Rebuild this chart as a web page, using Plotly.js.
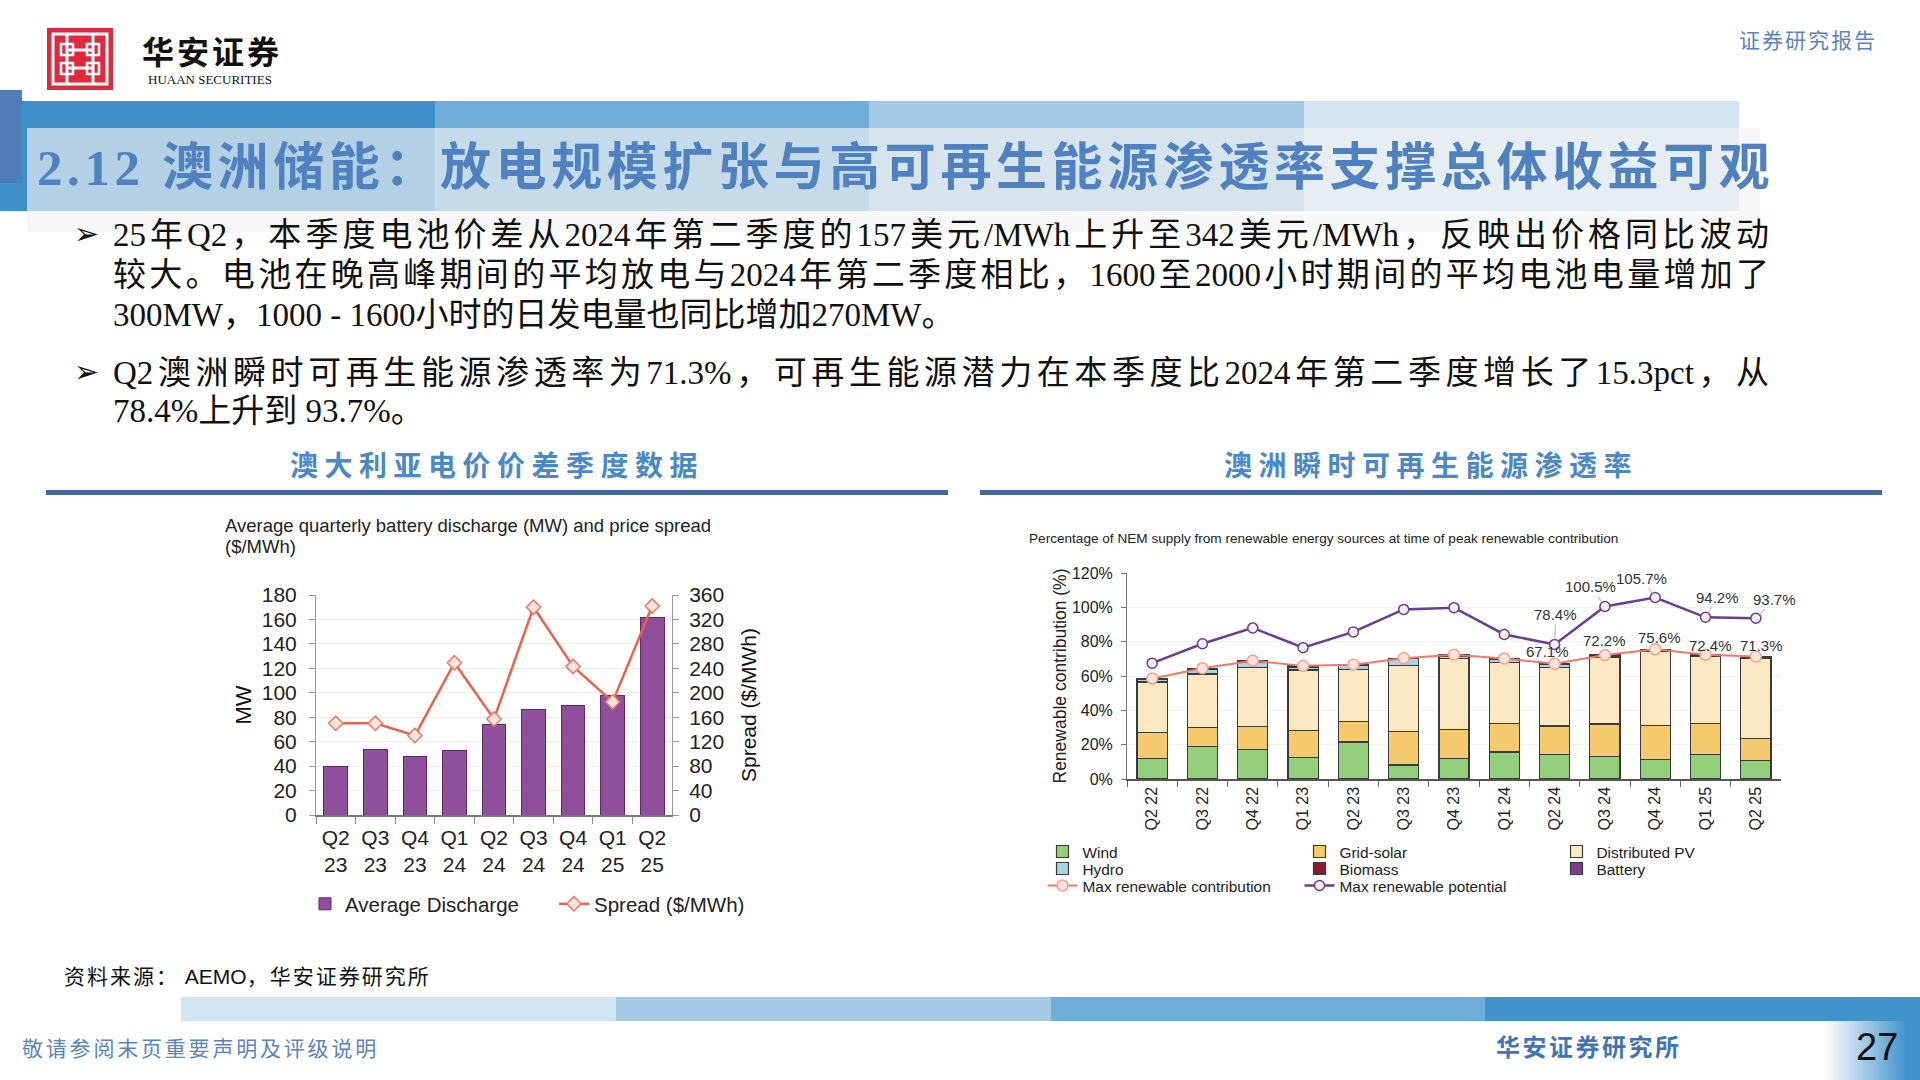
<!DOCTYPE html>
<html><head><meta charset="utf-8">
<script src="https://cdn.plot.ly/plotly-3.0.1.min.js"></script>
<style>
html,body{margin:0;padding:0;width:1920px;height:1080px;overflow:hidden;background:#fff;}
#page{position:relative;width:1920px;height:1080px;font-family:"Liberation Serif","Noto Sans CJK SC",serif;}
.a{position:absolute;white-space:nowrap;}
.tl{position:absolute;left:113px;width:1656px;height:40px;line-height:40px;font-size:33px;color:#111;white-space:nowrap;}
.jst{text-align:justify;text-align-last:justify;text-justify:inter-character;white-space:normal;}
.bul{position:absolute;left:74px;font-family:"DejaVu Sans",sans-serif;font-size:30px;color:#111;line-height:40px;}
#chart{position:absolute;left:0;top:0;width:1920px;height:1080px;}
</style></head>
<body><div id="page">
<!-- logo -->
<svg class="a" style="left:47px;top:28px" width="66" height="62" viewBox="0 0 66 62">
 <rect width="66" height="62" fill="#e2283d"/>
 <rect x="6" y="6" width="54" height="50" fill="none" stroke="#fff" stroke-width="3"/>
 <path d="M20 6V56M46 6V56M20 22H46M20 40H46" stroke="#fff" stroke-width="3" fill="none"/>
 <rect x="14" y="16" width="12" height="11" fill="none" stroke="#fff" stroke-width="2.5"/>
 <rect x="40" y="16" width="12" height="11" fill="none" stroke="#fff" stroke-width="2.5"/>
 <rect x="14" y="35" width="12" height="11" fill="none" stroke="#fff" stroke-width="2.5"/>
 <rect x="40" y="35" width="12" height="11" fill="none" stroke="#fff" stroke-width="2.5"/>
</svg>
<div class="a" style="left:142px;top:32px;font-family:'Noto Sans CJK SC';font-weight:700;font-size:32px;letter-spacing:3px;color:#111;line-height:36px;">华安证券</div>
<div class="a" style="left:148px;top:72px;font-family:'Liberation Serif';font-size:13px;color:#111;line-height:15px;">HUAAN SECURITIES</div>
<div class="a" style="left:1739px;top:25px;font-family:'Noto Sans CJK SC';font-size:21px;letter-spacing:2px;color:#5b83bd;line-height:28px;">证券研究报告</div>

<!-- header band -->
<div class="a" style="left:0;top:101px;width:435px;height:110px;background:#3f8fcb"></div>
<div class="a" style="left:435px;top:101px;width:434px;height:110px;background:#6faed9"></div>
<div class="a" style="left:869px;top:101px;width:435px;height:110px;background:#a3c9e4"></div>
<div class="a" style="left:1304px;top:101px;width:435px;height:110px;background:#d0e4f2"></div>
<div class="a" style="left:0;top:90px;width:22px;height:93px;background:#4f7db8"></div>
<div class="a" style="left:27px;top:128px;width:1733px;height:104px;background:rgba(242,242,242,0.65)"></div>
<div class="a" style="left:37px;top:138px;height:60px;line-height:60px;font-family:'Liberation Serif','Noto Sans CJK SC';font-weight:700;font-size:51px;letter-spacing:4.6px;color:#4f80c0;">2.12 澳洲储能：放电规模扩张与高可再生能源渗透率支撑总体收益可观</div>

<!-- bullets -->
<div class="bul" style="top:214px">➢</div>
<div class="tl jst" style="top:215px">25年Q2，本季度电池价差从2024年第二季度的157美元/MWh上升至342美元/MWh，反映出价格同比波动</div>
<div class="tl jst" style="top:255px">较大。电池在晚高峰期间的平均放电与2024年第二季度相比，1600至2000小时期间的平均电池电量增加了</div>
<div class="tl" style="top:295px">300MW，1000 - 1600小时的日发电量也同比增加270MW。</div>
<div class="bul" style="top:352px">➢</div>
<div class="tl jst" style="top:353px">Q2澳洲瞬时可再生能源渗透率为71.3%，可再生能源潜力在本季度比2024年第二季度增长了15.3pct，从</div>
<div class="tl" style="top:391px">78.4%上升到 93.7%。</div>

<!-- section headers -->
<div class="a" style="left:46px;width:902px;top:446px;text-align:center;font-family:'Noto Sans CJK SC';font-weight:700;font-size:28px;letter-spacing:6.5px;color:#4a88c8;line-height:36px;">澳大利亚电价价差季度数据</div>
<div class="a" style="left:46px;top:490px;width:902px;height:5px;background:#41699f"></div>
<div class="a" style="left:980px;width:902px;top:446px;text-align:center;font-family:'Noto Sans CJK SC';font-weight:700;font-size:28px;letter-spacing:6.5px;color:#4a88c8;line-height:36px;">澳洲瞬时可再生能源渗透率</div>
<div class="a" style="left:980px;top:490px;width:902px;height:5px;background:#41699f"></div>

<!-- left chart title -->
<div class="a" style="left:225px;top:515px;font-family:'Liberation Sans';font-size:18.5px;line-height:21px;color:#222;">Average quarterly battery discharge (MW) and price spread<br>($/MWh)</div>

<!-- footer -->
<div class="a" style="left:64px;top:961px;font-family:'Noto Sans CJK SC';font-size:21px;letter-spacing:2px;color:#111;line-height:28px;">资料来源：<span style="font-family:'Liberation Sans';letter-spacing:0"> AEMO</span>，华安证券研究所</div>
<div class="a" style="left:181px;top:997px;width:435px;height:24px;background:#d0e4f2"></div>
<div class="a" style="left:616px;top:997px;width:435px;height:24px;background:#a3c9e4"></div>
<div class="a" style="left:1051px;top:997px;width:434px;height:24px;background:#6faed9"></div>
<div class="a" style="left:1485px;top:997px;width:435px;height:24px;background:#4193cc"></div>
<div class="a" style="left:1825px;top:1021px;width:95px;height:59px;background:linear-gradient(to right,#ffffff,#b5d3ea 35%,#4193cc 85%)"></div>
<div class="a" style="left:1856px;top:1027px;font-family:'Liberation Sans';font-size:38px;color:#111;line-height:40px;">27</div>
<div class="a" style="left:22px;top:1033px;font-family:'Noto Sans CJK SC';font-size:21px;letter-spacing:2.8px;color:#5b83bd;line-height:28px;">敬请参阅末页重要声明及评级说明</div>
<div class="a" style="left:1496px;top:1031px;font-family:'Noto Sans CJK SC';font-weight:700;font-size:24px;letter-spacing:2.5px;color:#3f74b8;line-height:30px;">华安证券研究所</div>

<div id="chart"></div>
</div>
<script>
// ---------- Left chart data ----------
const dischargeQuarters = ['Q2<br>23','Q3<br>23','Q4<br>23','Q1<br>24','Q2<br>24','Q3<br>24','Q4<br>24','Q1<br>25','Q2<br>25'];
const averageDischargeMW = [40, 54, 48, 53, 74, 86, 90, 98, 162];
const spreadPerMWh = [150, 150, 130, 249, 157, 340, 243, 185, 342];

// ---------- Right chart data ----------
const renewQuarters = ['Q2 22','Q3 22','Q4 22','Q1 23','Q2 23','Q3 23','Q4 23','Q1 24','Q2 24','Q3 24','Q4 24','Q1 25','Q2 25'];
const windPct        = [11.8, 18.8, 17.1, 12.5, 21.6,  8.2, 11.8, 15.7, 14.4, 13.2, 11.4, 14.2, 10.8];
const gridSolarPct   = [15.3, 11.0, 13.7, 15.7, 11.9, 19.3, 17.2, 16.8, 16.5, 18.9, 19.7, 18.3, 12.8];
const distributedPct = [29.4, 31.4, 34.3, 35.3, 30.2, 38.4, 41.2, 35.3, 33.9, 38.7, 43.5, 38.7, 46.4];
const hydroPct       = [ 1.4,  2.5,  2.9,  1.8,  2.3,  4.1,  1.4,  1.6,  1.7,  0.8,  0.4,  0.5,  0.4];
const biomassPct     = [ 0.7,  0.8,  0.9,  0.6,  0.6,  0.4,  0.8,  0.8,  0.6,  0.4,  0.3,  0.4,  0.4];
const batteryPct     = [ 0,    0,    0,    0,    0,    0,    0,    0,    0,    0.2,  0.3,  0.3,  0.5];
const maxContributionPct = [58.6, 64.5, 68.9, 65.9, 66.6, 70.4, 72.4, 70.2, 67.1, 72.2, 75.6, 72.4, 71.3];
const maxPotentialPct    = [67.5, 78.8, 88.0, 76.5, 85.7, 98.8, 99.8, 84.2, 78.4, 100.5, 105.7, 94.2, 93.7];
const labelledFrom = 8; // values labelled from Q2 24 onwards
const renewTitle = 'Percentage of NEM supply from renewable energy sources at time of peak renewable contribution';

// label offsets (px) — layout only
const potentialOffsets    = [[1,-30],[-14,-20],[-14,-19],[12,-20],[19,-19]];
const contributionOffsets = [[-7,-12],[0,-15],[4,-12],[5,-9],[6,-11]];

const W = 1920, H = 1080;
const px = v => v / W;
const py = v => 1 - v / H;

const edge = {color:'#3a3a3a', width:1.2};
const traces = [
  {type:'bar', name:'Average Discharge', x:dischargeQuarters, y:averageDischargeMW, xaxis:'x', yaxis:'y',
   marker:{color:'#8f4f9b', line:{color:'#5e2a66', width:1}}, legend:'legend'},
  {type:'scatter', mode:'lines+markers', name:'Spread ($/MWh)', x:dischargeQuarters, y:spreadPerMWh, xaxis:'x', yaxis:'y2',
   line:{color:'#e8634f', width:2.5}, marker:{symbol:'diamond', size:11, color:'#fde3da', line:{color:'#e57a68', width:1.5}}, legend:'legend'},

  {type:'bar', name:'Wind', x:renewQuarters, y:windPct, xaxis:'x2', yaxis:'y3', marker:{color:'#93cf7b', line:edge}, legend:'legend2'},
  {type:'bar', name:'Grid-solar', x:renewQuarters, y:gridSolarPct, xaxis:'x2', yaxis:'y3', marker:{color:'#f5ca6c', line:edge}, legend:'legend2'},
  {type:'bar', name:'Distributed PV', x:renewQuarters, y:distributedPct, xaxis:'x2', yaxis:'y3', marker:{color:'#fce9c3', line:edge}, legend:'legend2'},
  {type:'bar', name:'Hydro', x:renewQuarters, y:hydroPct, xaxis:'x2', yaxis:'y3', marker:{color:'#a9d5e2', line:edge}, legend:'legend3'},
  {type:'bar', name:'Biomass', x:renewQuarters, y:biomassPct, xaxis:'x2', yaxis:'y3', marker:{color:'#8a1a2c', line:edge}, legend:'legend3'},
  {type:'bar', name:'Battery', x:renewQuarters, y:batteryPct, xaxis:'x2', yaxis:'y3', marker:{color:'#7b3f8c', line:edge}, legend:'legend3'},
  {type:'scatter', mode:'lines+markers', name:'Max renewable contribution', x:renewQuarters, y:maxContributionPct, xaxis:'x2', yaxis:'y3',
   line:{color:'#f0776a', width:2}, marker:{symbol:'circle', size:11, color:'#fbe3dc', line:{color:'#f0a090', width:1.5}}, legend:'legend4'},
  {type:'scatter', mode:'lines+markers', name:'Max renewable potential', x:renewQuarters, y:maxPotentialPct, xaxis:'x2', yaxis:'y3',
   line:{color:'#6a3d8f', width:2.5}, marker:{symbol:'circle', size:10, color:'#f4eef8', line:{color:'#6a3d8f', width:1.5}}, legend:'legend4'}
];

const annotations = [
  {xref:'paper', yref:'paper', x:px(1027), y:py(538), xanchor:'left', yanchor:'middle', showarrow:false,
   text:renewTitle, font:{size:13.6, color:'#222'}}
];
const labelFont = {size:15, color:'#333'};
for (let i = labelledFrom; i < renewQuarters.length; i++) {
  const k = i - labelledFrom;
  annotations.push({xref:'x2', yref:'y3', x:renewQuarters[i], y:maxPotentialPct[i], text:maxPotentialPct[i].toFixed(1)+'%',
    showarrow:true, arrowhead:0, arrowwidth:1, arrowcolor:'#b0b0b0', ax:potentialOffsets[k][0], ay:potentialOffsets[k][1], standoff:5, font:labelFont});
  annotations.push({xref:'x2', yref:'y3', x:renewQuarters[i], y:maxContributionPct[i], text:maxContributionPct[i].toFixed(1)+'%',
    showarrow:true, arrowhead:0, arrowwidth:1, arrowcolor:'rgba(0,0,0,0)', ax:contributionOffsets[k][0], ay:contributionOffsets[k][1], standoff:5, font:labelFont});
}

const rowLegend = {bgcolor:'rgba(0,0,0,0)', traceorder:'normal', orientation:'h', font:{size:15.4, color:'#222'},
                   xanchor:'left', yanchor:'middle', entrywidth:212, x:px(1042.5)};

const layout = {
  width:W, height:H, margin:{l:0, r:0, t:0, b:0},
  paper_bgcolor:'rgba(0,0,0,0)', plot_bgcolor:'rgba(0,0,0,0)',
  font:{family:'Liberation Sans, Arial, sans-serif', color:'#222'},
  barmode:'stack', bargap:0.4, showlegend:true,
  xaxis:{domain:[px(316), px(672)], anchor:'y', type:'category', range:[-0.5, dischargeQuarters.length - 0.5], tickangle:0,
         tickson:'boundaries', ticks:'outside', ticklen:7, tickcolor:'#888', ticklabelstandoff:3,
         showline:true, linecolor:'#777', linewidth:1.5, tickfont:{size:21, color:'#222'}, showgrid:false},
  yaxis:{domain:[py(815), py(595)], anchor:'x', range:[0,180], dtick:20, showgrid:true, gridcolor:'#ececec', zeroline:false,
         showline:true, linecolor:'#999', ticks:'outside', ticklen:6, tickcolor:'#999', ticklabelstandoff:8, tickfont:{size:21, color:'#222'},
         title:{text:'MW', font:{size:22, color:'#111'}, standoff:4}},
  yaxis2:{overlaying:'y', anchor:'x', side:'right', range:[0,360], dtick:40, showgrid:false, zeroline:false,
         showline:true, linecolor:'#999', ticks:'outside', ticklen:6, tickcolor:'#999', ticklabelstandoff:6, tickfont:{size:21, color:'#222'},
         title:{text:'Spread ($/MWh)', font:{size:21, color:'#111'}, standoff:18}},
  xaxis2:{domain:[px(1127), px(1781)], anchor:'y3', type:'category', range:[-0.5, renewQuarters.length - 0.5], tickangle:-90,
         tickson:'boundaries', ticks:'outside', ticklen:6,
         tickcolor:'#666', showline:true, linecolor:'#555', linewidth:1.5, tickfont:{size:16, color:'#222'}, showgrid:false},
  yaxis3:{domain:[py(779), py(573)], anchor:'x2', range:[0,120], dtick:20, ticksuffix:'%', showgrid:true, gridcolor:'#efefef', zeroline:false,
         showline:true, linecolor:'#777', ticks:'outside', ticklen:5, tickcolor:'#777', ticklabelstandoff:5, tickfont:{size:16, color:'#222'},
         title:{text:'Renewable contribution (%)', font:{size:17.5, color:'#222'}, standoff:0}},
  legend:{bgcolor:'rgba(0,0,0,0)', traceorder:'normal', orientation:'h', x:px(305), y:py(904), xanchor:'left', yanchor:'middle',
          font:{size:20.5, color:'#222'}, entrywidth:204},
  legend2:Object.assign({}, rowLegend, {y:py(852)}),
  legend3:Object.assign({}, rowLegend, {y:py(869)}),
  legend4:Object.assign({}, rowLegend, {y:py(886)}),
  annotations:annotations
};

Plotly.newPlot('chart', traces, layout, {staticPlot:true, displayModeBar:false});
</script>
</body></html>
